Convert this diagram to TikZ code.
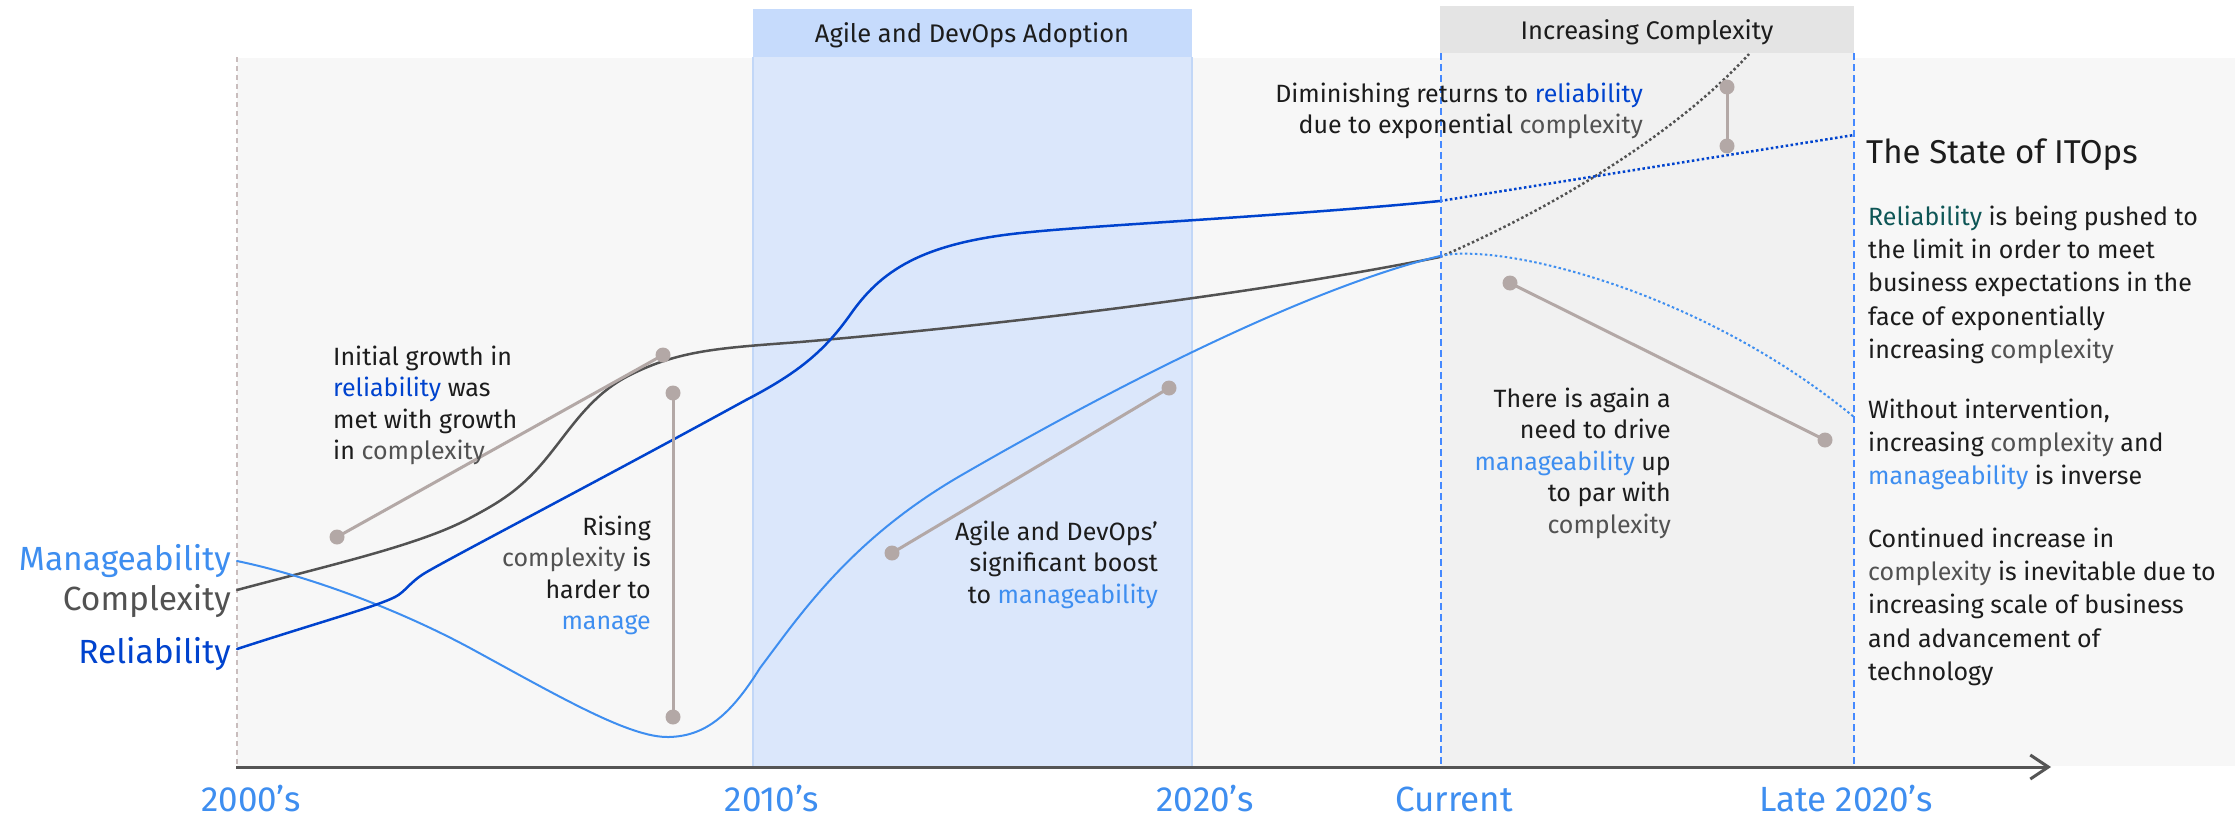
\documentclass[tikz,border=0pt]{standalone}
\usepackage{fontspec}
\setmainfont{Fira Sans}
\usetikzlibrary{arrows.meta}
\definecolor{relblue}{HTML}{0043CE}
\definecolor{manblue}{HTML}{3E8EF0}
\definecolor{cplx}{HTML}{525252}
\definecolor{annot}{HTML}{B3A8A6}
\definecolor{tealc}{HTML}{0E5656}
\definecolor{txt}{HTML}{1C1C1C}
\definecolor{panel}{HTML}{F7F7F7}
\definecolor{cband}{HTML}{F1F1F1}
\definecolor{chead}{HTML}{E4E4E4}
\definecolor{bband}{HTML}{DBE7FB}
\definecolor{bhead}{HTML}{C6DBFC}
\definecolor{bborder}{HTML}{C2D7F7}
\definecolor{dashblue}{HTML}{4589FF}
\definecolor{leftdash}{HTML}{C9BDBD}
\definecolor{axisc}{HTML}{555555}
\newcommand{\fstrut}{\rule{0pt}{20pt}}
\tikzset{
  ann/.style={inner sep=0pt, font=\fontsize{25}{31.5}\selectfont, text=txt},
  side/.style={inner sep=0pt, font=\fontsize{25}{33.3}\selectfont, text=txt, align=left, anchor=north west},
  leftlabel/.style={inner sep=0pt, font=\fontsize{33.5}{38}\selectfont, anchor=base east},
  axlabel/.style={inner sep=0pt, font=\fontsize{35}{40}\selectfont, anchor=base, text=manblue},
  hdr/.style={inner sep=0pt, font=\fontsize{25.5}{30}\selectfont, text=txt, anchor=base},
  pin/.style={draw=annot, line width=3pt},
  pindot/.style={fill=annot, circle, inner sep=0pt, minimum size=15pt},
  vdash/.style={draw=dashblue, line width=2pt, dash pattern=on 7pt off 4pt},
  dotline/.style={line width=2.5pt, dash pattern=on 2.5pt off 2.5pt},
  curve/.style={line width=2.5pt, line join=round, line cap=round},
}
\begin{document}
\begin{tikzpicture}[x=1pt,y=-1pt]
\path[use as bounding box, fill=white] (0,0) rectangle (2235,817);
% backgrounds
\fill[panel] (237,58) rectangle (2235,766);
\fill[cband] (1441,53) rectangle (1854,766);
\fill[chead] (1440,6) rectangle (1854,53);
\fill[bband] (753,57) rectangle (1192,766);
\draw[bborder, line width=1.5pt] (753,57) -- (753,766) (1192,57) -- (1192,766);
\fill[bhead] (753,9) rectangle (1192,57);
\draw[leftdash, line width=1.5pt, dash pattern=on 5pt off 4pt] (237,57) -- (237,766);

\node[hdr] (hagile) at (972,42) {Agile and DevOps Adoption};
\node[hdr] (hcplx) at (1647,39) {Increasing Complexity};

% complexity
\draw[curve, cplx] (237,590) .. controls (330,565) and (420,545) .. (470,518)
  .. controls (500,502) and (520,490) .. (545,460)
  .. controls (570,430) and (590,395) .. (630,375)
  .. controls (680,350) and (720,348) .. (800,342)
  .. controls (1000,325) and (1250,295) .. (1440,257);
\draw[dotline, cplx] (1440,257) .. controls (1560,205) and (1680,130) .. (1749,54);

% manageability
\draw[curve, manblue, line width=2pt] (237,561) .. controls (300,574) and (390,605) .. (470,648)
  .. controls (560,697) and (630,738) .. (669,737)
  .. controls (705,736) and (730,716) .. (760,668)
  .. controls (800,615) and (850,540) .. (960,476)
  .. controls (1100,395) and (1300,290) .. (1440,256);
\draw[dotline, manblue, line width=2pt] (1440,256) .. controls (1500,242) and (1700,290) .. (1854,417);

% reliability
\draw[curve, relblue] (237,649) .. controls (320,622) and (375,607) .. (395,597)
  .. controls (405,592) and (410,582) .. (425,573)
  .. controls (450,558) and (600,480) .. (746,400)
  .. controls (800,372) and (825,350) .. (850,315)
  .. controls (880,272) and (920,242) .. (1031,232)
  .. controls (1100,225) and (1300,215) .. (1440,201);
\coordinate (rel0) at (1440,201);
\coordinate (rel1) at (1854,135);
\draw[dotline, relblue] (rel0) -- (rel1);

% dashed verticals
\draw[vdash] (1441,53) -- (1441,766);
\draw[vdash] (1854,53) -- (1854,766);

% pins
\node[pindot] (d1a) at (337,537) {};
\node[pindot] (d1b) at (663,355) {};
\node[pindot] (d2a) at (673,393) {};
\node[pindot] (d2b) at (673,717) {};
\node[pindot] (d3a) at (892,553) {};
\node[pindot] (d3b) at (1169,388) {};
\node[pindot] (d4a) at (1727,87) {};
\node[pindot] (d4b) at (1727,146) {};
\node[pindot] (d5a) at (1510,283) {};
\node[pindot] (d5b) at (1825,440) {};
\draw[pin] (d1a.center) -- (d1b.center);
\draw[pin] (d2a.center) -- (d2b.center);
\draw[pin] (d3a.center) -- (d3b.center);
\draw[pin] (d4a.center) -- (d4b.center);
\draw[pin] (d5a.center) -- (d5b.center);

% annotations
\node[ann, align=left, anchor=north west] (tA) at (333,345)
 {\fstrut Initial growth in\\\textcolor{relblue}{reliability} was\\met with growth\\in \textcolor{cplx}{complexity}};
\node[ann, align=right, anchor=north east] (tB) at (651,515)
 {\fstrut Rising\\\textcolor{cplx}{complexity} is\\harder to\\\textcolor{manblue}{manage}};
\node[ann, align=right, anchor=north east] (tC) at (1158,520)
 {\fstrut Agile and DevOps’\\significant boost\\to \textcolor{manblue}{manageability}};
\node[ann, align=right, anchor=north east] (tD) at (1643,82)
 {\fstrut Diminishing returns to \textcolor{relblue}{reliability}\\due to exponential \textcolor{cplx}{complexity}};
\node[ann, align=right, anchor=north east] (tE) at (1671,387)
 {\fstrut There is again a\\need to drive\\\textcolor{manblue}{manageability} up\\to par with\\\textcolor{cplx}{complexity}};

% right panel
\node[inner sep=0pt, font=\fontsize{33}{38}\selectfont, anchor=base west, text=txt] (title) at (1866,163) {The State of ITOps};
\node[side] (p1) at (1868,205)
 {\fstrut\textcolor{tealc}{Reliability} is being pushed to\\the limit in order to meet\\business expectations in the\\face of exponentially\\increasing \textcolor{cplx}{complexity}};
\node[side] (p2) at (1868,398)
 {\fstrut Without intervention,\\increasing \textcolor{cplx}{complexity} and\\\textcolor{manblue}{manageability} is inverse};
\node[side] (p3) at (1868,527)
 {\fstrut Continued increase in\\\textcolor{cplx}{complexity} is inevitable due to\\increasing scale of business\\and advancement of\\technology};

% left labels
\node[leftlabel, text=manblue] (lman) at (231,570) {Manageability};
\node[leftlabel, text=cplx] (lcpx) at (231,610) {Complexity};
\node[leftlabel, text=relblue] (lrel) at (231,663) {Reliability};

% axis
\coordinate (ax0) at (236,767);
\coordinate (ax1) at (2051,767);
\draw[axisc, line width=3pt, -{Straight Barb[length=18pt,width=24pt]}] (ax0) -- (ax1);
\node[axlabel] (x1) at (251,811) {2000’s};
\node[axlabel] (x2) at (772,811) {2010’s};
\node[axlabel] (x3) at (1205,811) {2020’s};
\node[axlabel] (x4) at (1454,811) {Current};
\node[axlabel] (x5) at (1846,811) {Late 2020’s};
\end{tikzpicture}
\end{document}
